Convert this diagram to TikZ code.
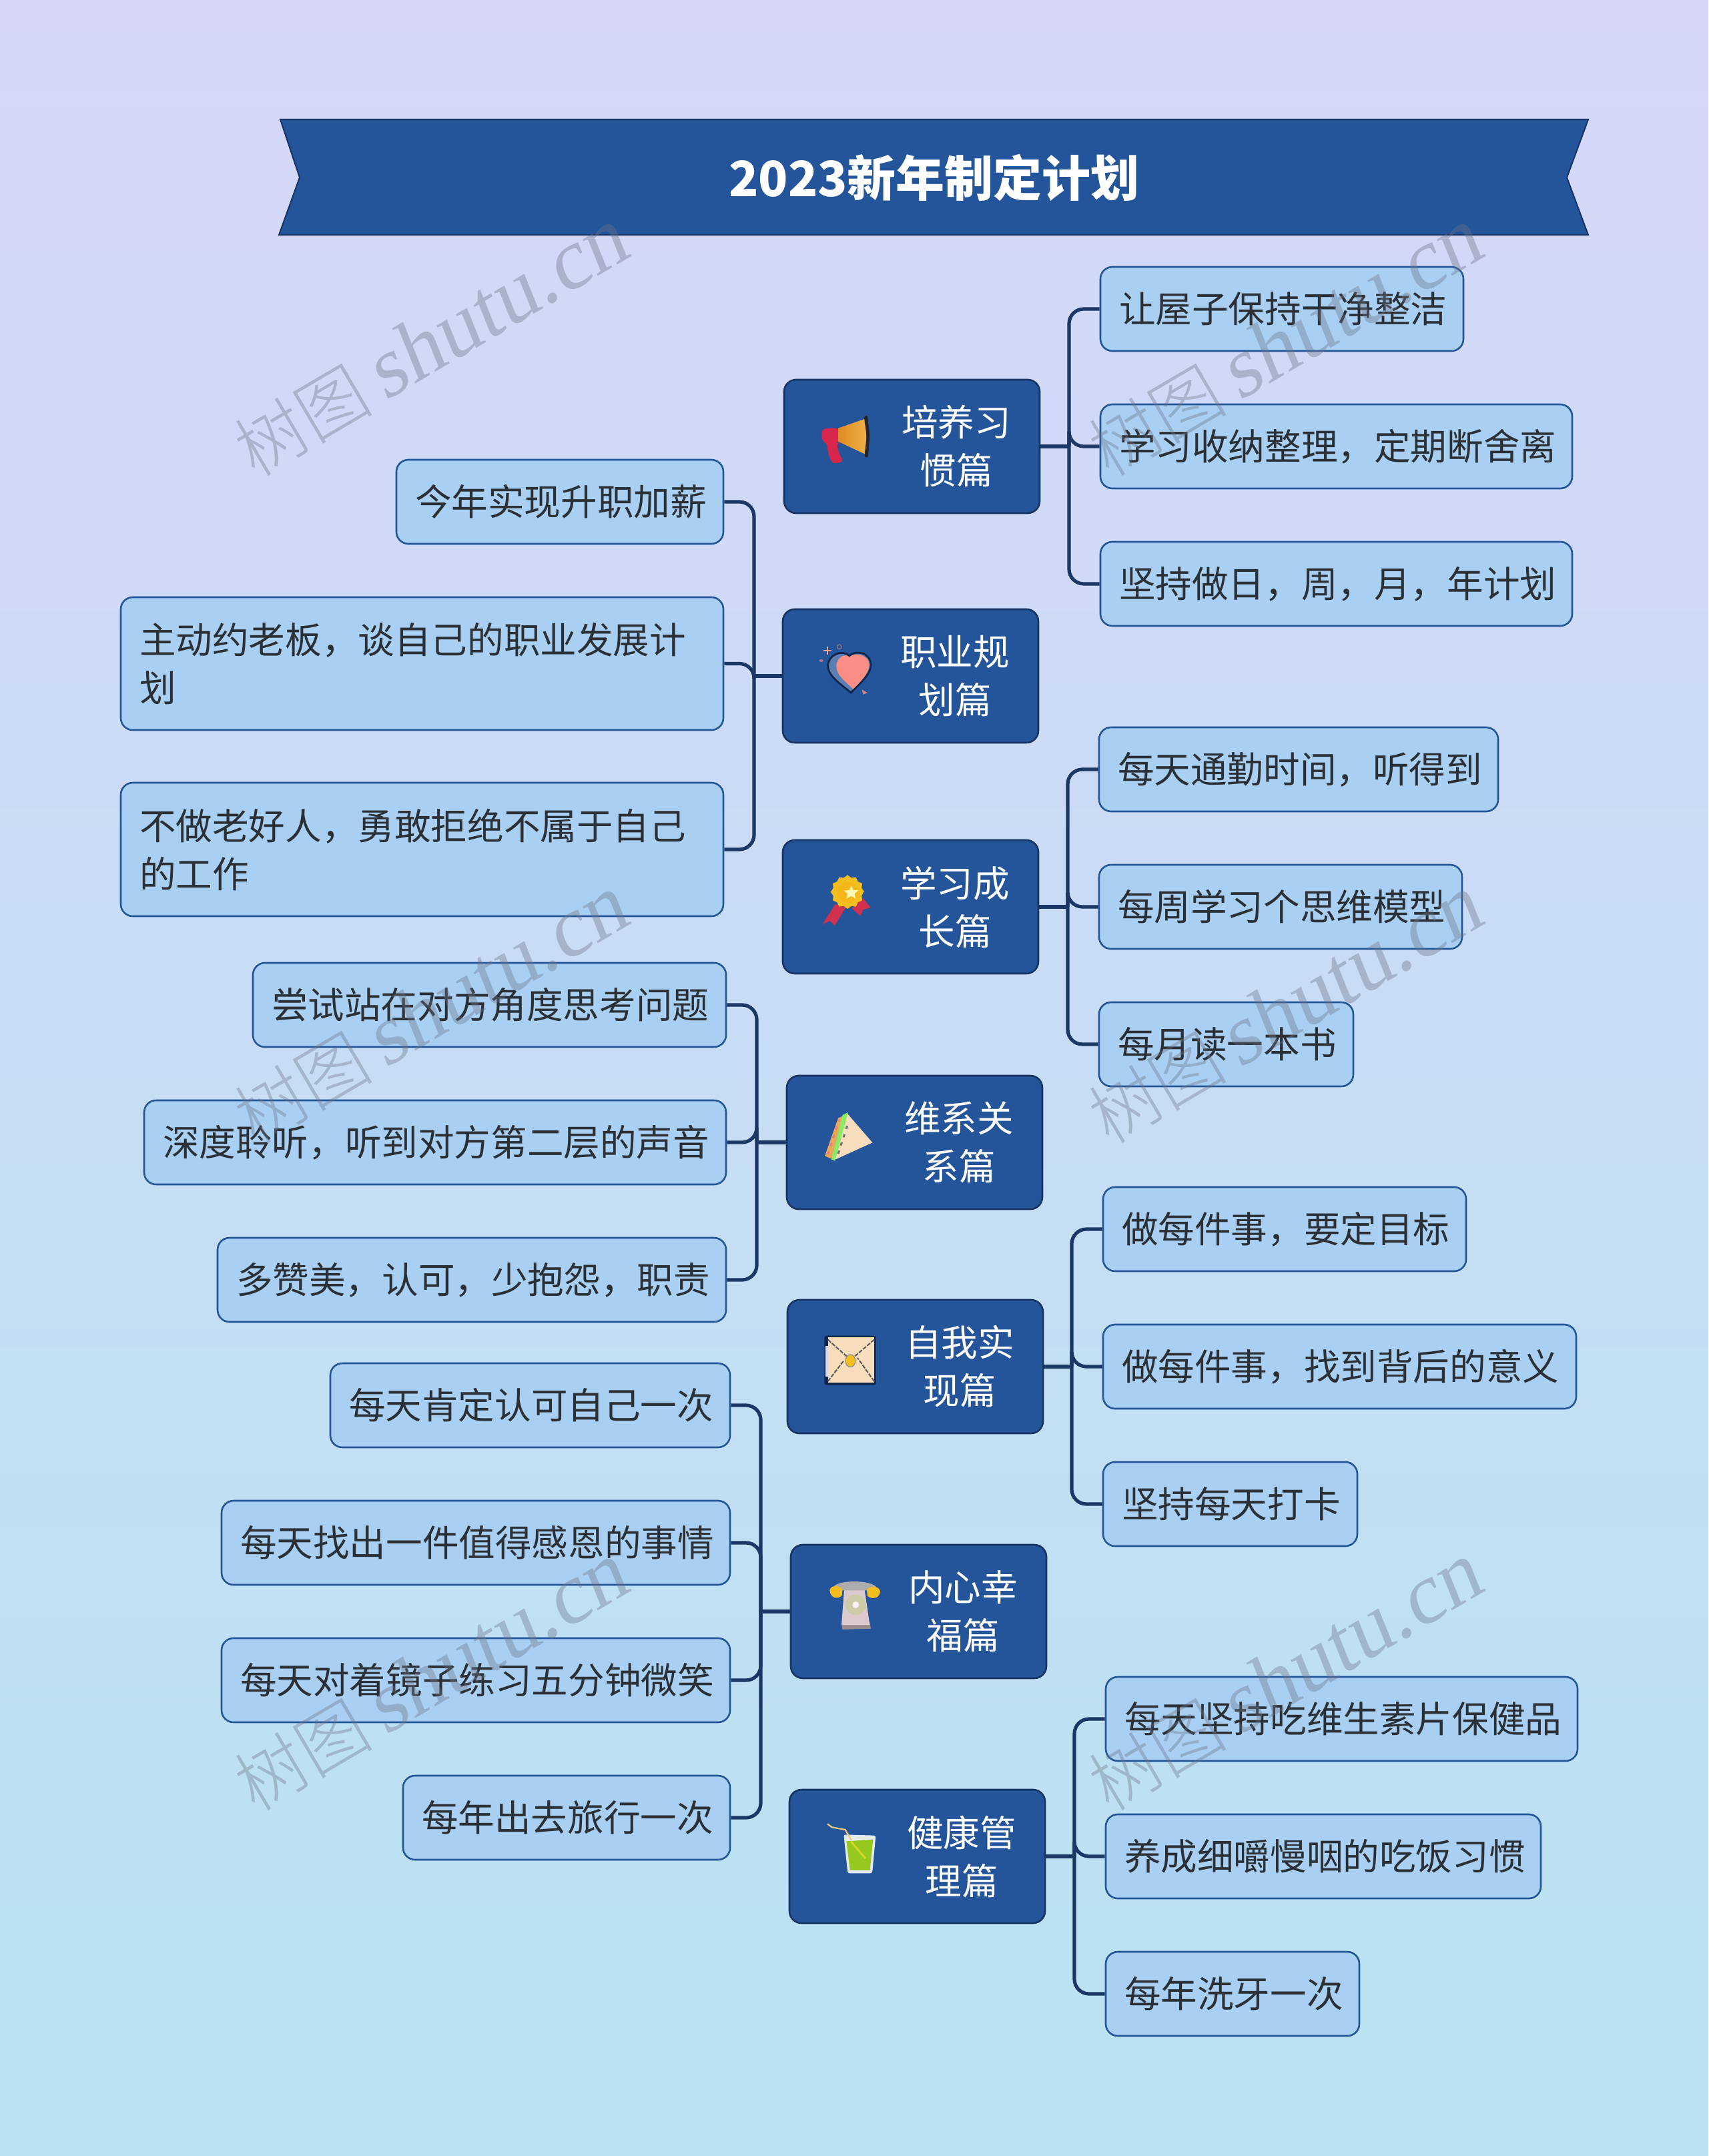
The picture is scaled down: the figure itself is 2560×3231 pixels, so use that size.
\documentclass[tikz,border=0pt]{standalone}
\usepackage{fontspec}
\setmainfont{Noto Sans CJK SC}
\newfontfamily\wmcjk{Noto Sans CJK SC Light}
\newfontfamily\wmlat[FakeSlant=0.15]{Liberation Serif}
\usetikzlibrary{calc}
\definecolor{navy}{HTML}{1B3766}
\definecolor{mainfill}{HTML}{24549A}
\definecolor{mainedge}{HTML}{173463}
\definecolor{leaffill}{HTML}{A9D0F2}
\definecolor{leafedge}{HTML}{245597}
\definecolor{ink}{HTML}{2A3036}
\definecolor{wm}{HTML}{6E7488}
\definecolor{iconred}{HTML}{D8264C}
\definecolor{ribbon}{HTML}{D2304F}
\definecolor{icongold}{HTML}{F4BE1E}
\definecolor{iconorange}{HTML}{DE8C24}
\definecolor{iconorangeb}{HTML}{F0B048}
\definecolor{iconsalmon}{HTML}{FA8E84}
\definecolor{iconcream}{HTML}{F7DDBB}
\definecolor{iconpink}{HTML}{DCC9CE}
\definecolor{icongreen}{HTML}{96C820}
\definecolor{darkline}{HTML}{12254A}
\tikzset{
  x=0.5pt,y=-0.5pt,
  leafbox/.style={draw=leafedge,fill=leaffill,line width=1.3pt,rounded corners=9pt,inner sep=0pt,text=ink,font=\fontsize{27.3}{36}\selectfont,align=left},
  mainbox/.style={draw=mainedge,fill=mainfill,line width=1.3pt,rounded corners=9pt,inner sep=0pt},
  mainlabel/.style={inner sep=0pt,text=white,font=\fontsize{27.3}{36}\selectfont,align=center},
  conn/.style={draw=navy,line width=2.6pt,rounded corners=11pt},
  wmark/.style={text=wm,opacity=0.38,rotate=30.5,inner sep=0pt},
  iconunits/.style={x=0.16667pt,y=-0.16667pt},
}
\newcommand{\leafnode}[6]{%
  \pgfmathsetmacro{\bw}{(#4-#2)*0.5}\pgfmathsetmacro{\bh}{(#5-#3)*0.5}\pgfmathsetmacro{\tw}{\bw-28}%
  \node[leafbox,minimum width=\bw pt,minimum height=\bh pt,text width=\tw pt] (#1) at ({(#2+#4)/2},{(#3+#5)/2}) {#6};}
\newcommand{\mainnode}[4]{%
  \node[mainbox,minimum width=191.5pt,minimum height=100pt] (#1) at ({#2+191.5},{#3+100}) {};
  \node[mainlabel] (#1t) at ({#2+258},{#3+100}) {#4};}
\newcommand{\stub}[2]{\draw[conn] (#1) -- (#1 -| #2);}
\newcommand{\branch}[3]{\draw[conn] (#1 -| #2) -- (#3 -| #2) -- (#3);}
\newcommand{\wmtext}[3]{\node[wmark] (#1) at (#2,#3) {{\wmcjk\fontsize{52}{52}\selectfont 树图}\hspace{9pt}{\wmlat\fontsize{64}{64}\selectfont shutu.cn}};}
\begin{document}
\begin{tikzpicture}
\useasboundingbox (0,0) rectangle (2560,3231);
\shade[top color={rgb,255:red,214;green,215;blue,248},bottom color={rgb,255:red,184;green,227;blue,241}] (0,0) rectangle (2560,3231);
% banner
\draw[draw=mainedge,line width=1pt,fill=mainfill] (420,179) -- (2380,179) -- (2348,266) -- (2380,352) -- (418,352) -- (449,266) -- cycle;
\node[inner sep=0pt,text=white,font=\fontsize{36.5}{40}\selectfont\bfseries] (title) at (1400,266) {2023新年制定计划};
% spines
\coordinate (s1) at (1602,0);
\coordinate (s2) at (1130,0);
\coordinate (s3) at (1600,0);
\coordinate (s4) at (1134,0);
\coordinate (s5) at (1606,0);
\coordinate (s6) at (1140,0);
\coordinate (s7) at (1610,0);
% main nodes
\mainnode{m1}{1175}{569}{培养习\\惯篇}
\mainnode{m2}{1173}{913}{职业规\\划篇}
\mainnode{m3}{1173}{1259}{学习成\\长篇}
\mainnode{m4}{1179}{1612}{维系关\\系篇}
\mainnode{m5}{1180}{1948}{自我实\\现篇}
\mainnode{m6}{1185}{2315}{内心幸\\福篇}
\mainnode{m7}{1183}{2682}{健康管\\理篇}
% leaves
\leafnode{a1}{1649}{400}{2193}{526}{让屋子保持干净整洁}
\leafnode{a2}{1649}{606}{2356}{732}{学习收纳整理，定期断舍离}
\leafnode{a3}{1649}{812}{2356}{938}{坚持做日，周，月，年计划}
\leafnode{b1}{594}{689}{1084}{815}{今年实现升职加薪}
\leafnode{b2}{181}{895}{1084}{1094}{主动约老板，谈自己的职业发展计\\划}
\leafnode{b3}{181}{1173}{1084}{1373}{不做老好人，勇敢拒绝不属于自己\\的工作}
\leafnode{c1}{1647}{1090}{2245}{1216}{每天通勤时间，听得到}
\leafnode{c2}{1647}{1296}{2191}{1422}{每周学习个思维模型}
\leafnode{c3}{1647}{1502}{2028}{1628}{每月读一本书}
\leafnode{d1}{379}{1443}{1088}{1569}{尝试站在对方角度思考问题}
\leafnode{d2}{216}{1649}{1088}{1775}{深度聆听，听到对方第二层的声音}
\leafnode{d3}{326}{1855}{1088}{1981}{多赞美，认可，少抱怨，职责}
\leafnode{e1}{1653}{1779}{2197}{1905}{做每件事，要定目标}
\leafnode{e2}{1653}{1985}{2362}{2111}{做每件事，找到背后的意义}
\leafnode{e3}{1653}{2191}{2034}{2317}{坚持每天打卡}
\leafnode{f1}{495}{2043}{1094}{2169}{每天肯定认可自己一次}
\leafnode{f2}{332}{2249}{1094}{2375}{每天找出一件值得感恩的事情}
\leafnode{f3}{332}{2455}{1094}{2581}{每天对着镜子练习五分钟微笑}
\leafnode{f4}{604}{2661}{1094}{2787}{每年出去旅行一次}
\leafnode{g1}{1657}{2513}{2364}{2639}{每天坚持吃维生素片保健品}
\leafnode{g2}{1657}{2719}{2309}{2845}{养成细嚼慢咽的吃饭习惯}
\leafnode{g3}{1657}{2925}{2037}{3051}{每年洗牙一次}
% connectors
\stub{m1.east}{s1}
\branch{m1.east}{s1}{a1.west}
\branch{m1.east}{s1}{a2.west}
\branch{m1.east}{s1}{a3.west}
\stub{m2.west}{s2}
\branch{m2.west}{s2}{b1.east}
\branch{m2.west}{s2}{b2.east}
\branch{m2.west}{s2}{b3.east}
\stub{m3.east}{s3}
\branch{m3.east}{s3}{c1.west}
\branch{m3.east}{s3}{c2.west}
\branch{m3.east}{s3}{c3.west}
\stub{m4.west}{s4}
\branch{m4.west}{s4}{d1.east}
\branch{m4.west}{s4}{d2.east}
\branch{m4.west}{s4}{d3.east}
\stub{m5.east}{s5}
\branch{m5.east}{s5}{e1.west}
\branch{m5.east}{s5}{e2.west}
\branch{m5.east}{s5}{e3.west}
\stub{m6.west}{s6}
\branch{m6.west}{s6}{f1.east}
\branch{m6.west}{s6}{f2.east}
\branch{m6.west}{s6}{f3.east}
\branch{m6.west}{s6}{f4.east}
\stub{m7.east}{s7}
\branch{m7.east}{s7}{g1.west}
\branch{m7.east}{s7}{g2.west}
\branch{m7.east}{s7}{g3.west}
% icons: each scope is a 330-unit square
\begin{scope}[shift={(1220,600)},iconunits]% megaphone
  \fill[iconred,rounded corners=3pt] (35,128) -- (112,124) -- (112,190) -- (100,192) -- (112,240) -- (133,276) -- (82,286) -- (62,235) -- (58,190) -- (35,185) -- cycle;
  \shade[left color=iconorange,right color=iconorangeb] (108,125) -- (232,82) -- (236,245) -- (110,186) -- cycle;
  \fill[black!85,rounded corners=1.5pt] (224,72) -- (240,66) -- (250,160) -- (242,258) -- (226,255) -- (236,160) -- cycle;
\end{scope}
\begin{scope}[shift={(1220,950)},iconunits]% heart
  \draw[darkline,line width=1.4pt,fill=mainfill!75!white] (165,264) .. controls (120,225) and (60,190) .. (62,140) .. controls (64,95) and (125,68) .. (158,98) .. controls (190,70) and (255,85) .. (255,140) .. controls (255,180) and (205,225) .. (165,264) -- cycle;
  \fill[iconsalmon] (175,248) .. controls (150,220) and (100,190) .. (100,145) .. controls (100,105) and (140,85) .. (158,104) .. controls (185,80) and (248,95) .. (248,140) .. controls (248,175) and (205,220) .. (175,248) -- cycle;
  \draw[iconsalmon!85!white,line width=1pt] (42,75) -- (78,75) (60,58) -- (60,94);
  \draw[iconsalmon!50!mainfill,line width=0.7pt] (113,58) circle (10);
  \fill[iconsalmon!60!mainfill] (32,120) ellipse (10 and 6);
  \fill[iconsalmon!80!mainfill] (215,250) -- (240,265) -- (220,272) -- cycle;
\end{scope}
\begin{scope}[shift={(1220,1300)},iconunits]% medal
  \fill[ribbon] (95,165) -- (38,255) -- (72,240) -- (92,262) -- (142,180) -- cycle;
  \fill[ribbon] (170,185) -- (208,218) -- (220,190) -- (254,180) -- (218,138) -- cycle;
  \fill[icongold] (150,110) ++(0:72)
    \foreach \a in {15,30,...,360} { -- ($(150,110)+(\a:{mod(\a,30)==0 ? 76 : 66})$) } -- cycle;
  \fill[icongold!85!orange] (150,112) circle (45);
  \fill[yellow!30!white] (168,82) -- (176,102) -- (198,102) -- (182,118) -- (186,140) -- (166,128) -- (146,140) -- (150,118) -- (134,104) -- (158,102) -- cycle;
\end{scope}
\begin{scope}[shift={(1220,1655)},iconunits]% sandwich
  \fill[iconcream] (148,40) -- (262,172) -- (90,250) -- cycle;
  \fill[iconorange!65!iconcream] (48,232) -- (108,62) -- (130,52) -- (86,248) -- cycle;
  \fill[green!45!iconcream] (78,248) -- (128,48) -- (152,36) -- (94,254) -- cycle;
  \draw[iconred!55!iconcream,line width=1.2pt,dash pattern=on 2.5pt off 4pt] (62,225) -- (112,70);
  \draw[black!55,line width=1.5pt,dash pattern=on 2.5pt off 4pt] (108,222) -- (154,80);
\end{scope}
\begin{scope}[shift={(1220,1985)},iconunits]% envelope
  \fill[darkline,rounded corners=1.5pt] (46,50) rectangle (278,272);
  \fill[iconcream] (62,58) rectangle (270,262);
  \fill[blue!15!white] (50,95) rectangle (62,235);
  \draw[black!65,line width=1pt,dash pattern=on 3pt off 1pt] (62,68) -- (160,155) (270,68) -- (168,155) (62,255) -- (135,160) (270,255) -- (195,150);
  \fill[icongold,draw=black!45,line width=0.6pt] (163,163) ellipse (22 and 28);
\end{scope}
\begin{scope}[shift={(1225,2350)},iconunits]% telephone
  \fill[iconpink!70!black] (108,245) -- (235,245) -- (240,272) -- (112,276) -- cycle;
  \fill[iconpink] (120,98) -- (212,98) -- (235,255) -- (108,255) -- cycle;
  \fill[gray!60!olive!45!white] (172,165) circle (46);
  \fill[white!80!iconpink] (172,165) circle (15);
  \fill[gray!65!white] (68,90) .. controls (80,50) and (250,50) .. (268,90) -- (240,100) -- (95,100) -- cycle;
  \fill[icongold] (55,100) .. controls (60,70) and (110,80) .. (112,100) -- (110,122) .. controls (95,140) and (60,140) .. (55,100) -- cycle;
  \fill[icongold] (282,105) .. controls (278,75) and (225,82) .. (222,100) -- (225,125) .. controls (240,140) and (278,140) .. (282,105) -- cycle;
\end{scope}
\begin{scope}[shift={(1225,2720)},iconunits]% drink
  \fill[white!88!mainfill,rounded corners=1.5pt] (118,88) -- (262,92) -- (246,262) -- (136,262) -- cycle;
  \fill[icongreen] (130,118) -- (250,110) -- (236,248) -- (146,248) -- cycle;
  \draw[yellow!55!icongreen,line width=1.4pt] (150,118) -- (215,195);
  \draw[iconorangeb!70!white,line width=1.1pt,line join=round] (45,40) -- (65,55) -- (125,66) -- (152,112);
\end{scope}
% watermarks
\wmtext{w1}{645}{515}
\wmtext{w2}{1925}{515}
\wmtext{w3}{645}{1515}
\wmtext{w4}{1925}{1515}
\wmtext{w5}{645}{2515}
\wmtext{w6}{1925}{2515}
\end{tikzpicture}
\end{document}
